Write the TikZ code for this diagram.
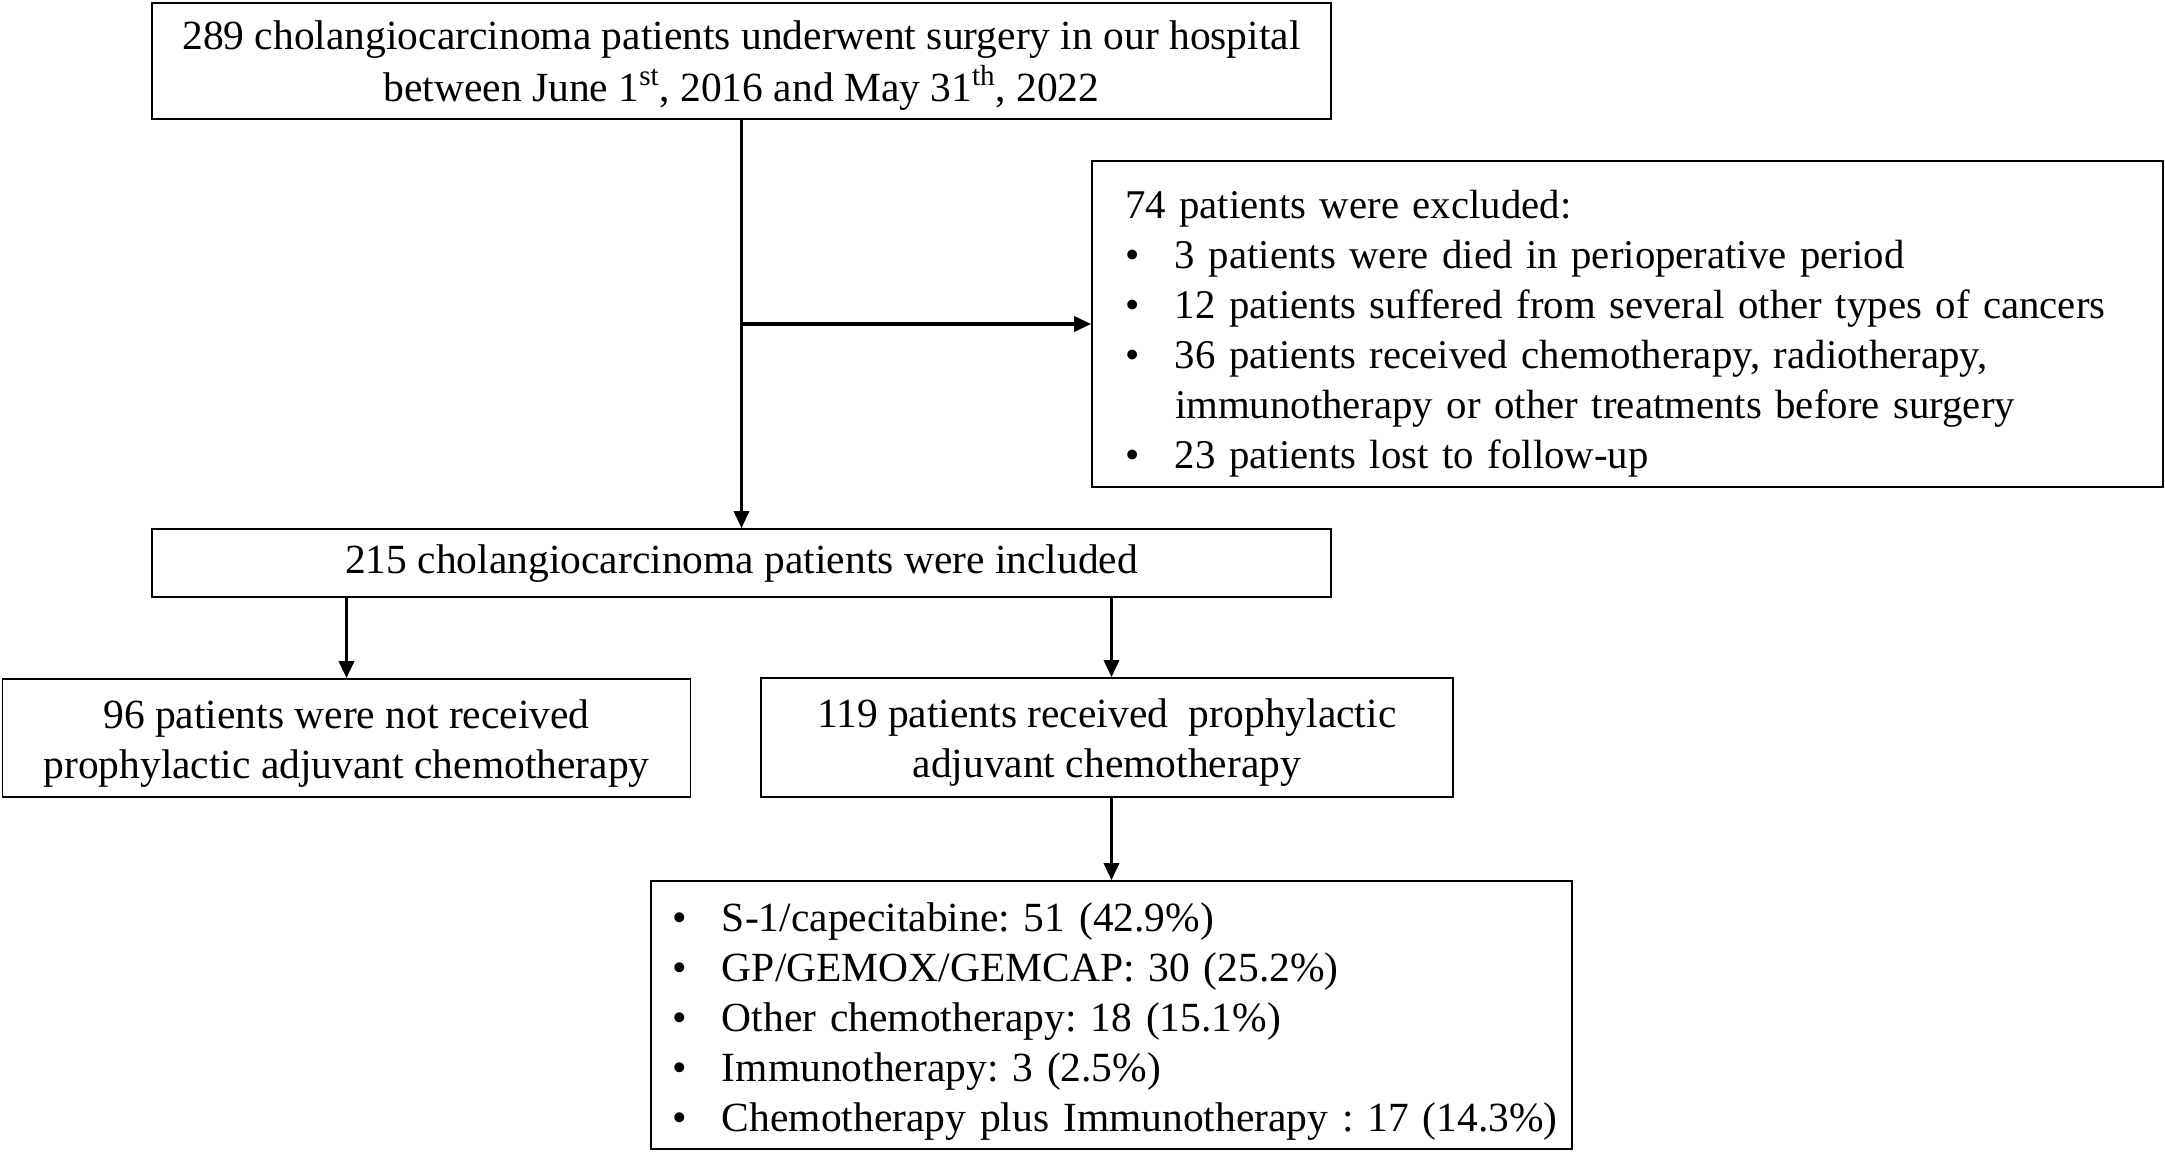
\documentclass[tikz,border=0pt]{standalone}
\usepackage{fontspec}
\setmainfont{Liberation Serif}
\usetikzlibrary{arrows.meta}
\frenchspacing
\newcommand\diagfont{\fontsize{20.75}{25}\selectfont\frenchspacing}
\newcommand\dbul{\makebox[25pt][l]{•}}
\begin{document}
\begin{tikzpicture}[x=0.5pt,y=-0.5pt,
  box/.style={draw, line width=0.85pt, inner sep=0pt, align=center, font=\diagfont},
  listbox/.style={box, align=left},
  conn/.style={line width=1.7pt, -{Triangle[length=8.5pt,width=7.5pt]}}]
\useasboundingbox (0,0) rectangle (2165,1152);
\fill[white] (0,0) rectangle (2165,1152);

\node[box, font=\fontsize{20.75}{26}\selectfont, minimum width=589.5pt, minimum height=58pt,
      text height=48pt, text depth=8pt] (b1) at (741.5,61)
  {289 cholangiocarcinoma patients underwent surgery in our hospital\\
   between June 1\textsuperscript{st}, 2016 and May 31\textsuperscript{th}, 2022};

\node[listbox, font=\fontsize{20.4}{25}\selectfont, text width=502.5pt, inner xsep=16.5pt,
      minimum height=163pt, text height=15pt, text depth=121pt] (b2) at (1627.5,324)
  {74 patients were excluded:\\
   \dbul 3 patients were died in perioperative period\\
   \dbul 12 patients suffered from several other types of cancers\\
   \dbul 36 patients received chemotherapy, radiotherapy,\\
   \hspace*{25pt}immunotherapy or other treatments before surgery\\
   \dbul 23 patients lost to follow-up};

\node[box, minimum width=589.5pt, minimum height=34pt,
      text height=19pt, text depth=9pt] (b3) at (741.5,563)
  {215 cholangiocarcinoma patients were included};

\node[box, minimum width=344pt, minimum height=59pt,
      text height=48pt, text depth=8pt] (b4) at (346.5,738)
  {96 patients were not received\\ prophylactic adjuvant chemotherapy};

\node[box, minimum width=346pt, minimum height=59.5pt,
      text height=48pt, text depth=8pt] (b5) at (1106.75,737.5)
  {119 patients received\ \ prophylactic\\ adjuvant chemotherapy};

\node[listbox, text width=439.5pt, inner xsep=10.5pt, minimum height=134pt,
      text height=15pt, text depth=99pt] (b6) at (1111.5,1015)
  {\dbul S-1/capecitabine: 51 (42.9\%)\\
   \dbul GP/GEMOX/GEMCAP: 30 (25.2\%)\\
   \dbul Other chemotherapy: 18 (15.1\%)\\
   \dbul Immunotherapy: 3 (2.5\%)\\
   \dbul \mbox{Chemotherapy plus Immunotherapy : 17 (14.3\%)}};

\draw[conn] (b1.south) -- (b3.north);
\draw[conn] (b1.south |- b2.west) -- (b2.west);
\draw[conn] (b4.north |- b3.south) -- (b4.north);
\draw[conn] (b6.north |- b3.south) -- (b6.north |- b5.north);
\draw[conn] (b6.north |- b5.south) -- (b6.north);
\end{tikzpicture}
\end{document}
